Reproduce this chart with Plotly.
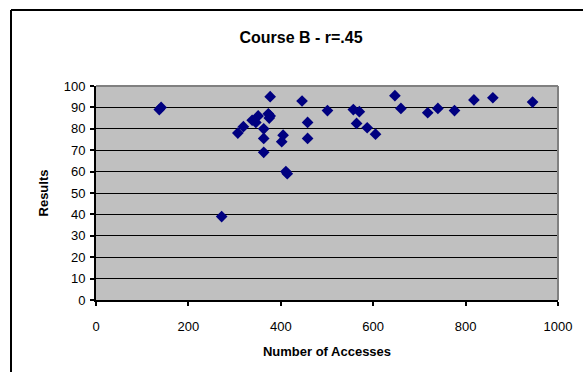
import plotly.graph_objects as go

accesses = [137, 141, 272, 307, 319, 338, 346, 351, 363, 363, 363, 373, 375, 377, 377,
            402, 405, 411, 414, 446, 458, 458, 501, 557, 564, 570, 587, 605,
            647, 660, 718, 740, 776, 818, 859, 945]
results = [89, 90, 39, 78, 81, 84, 83, 86, 69, 75.5, 80, 87, 85, 86, 95,
           74, 77, 60, 59, 93, 83, 75.5, 88.5, 89, 82.5, 88, 80.5, 77.5,
           95.5, 89.5, 87.5, 89.5, 88.5, 93.5, 94.5, 92.5]

W, H = 583, 372
L, R, T, B = 96, 25, 86, 72
pw, ph = W - L - R, H - T - B

fig = go.Figure(go.Scatter(
    x=accesses, y=results, mode="markers",
    marker=dict(symbol="diamond", size=9, color="#000080", line=dict(width=0)),
    cliponaxis=False,
))

font = "Liberation Sans, Arial, sans-serif"
fig.update_layout(
    width=W, height=H,
    margin=dict(l=L, r=R, t=T, b=B),
    paper_bgcolor="white", plot_bgcolor="#C0C0C0",
    showlegend=False,
    font=dict(family=font, size=12, color="black"),
    title=dict(text="<b>Course B - r=.45</b>", x=301 / W, xanchor="center",
               y=1 - 37 / H, yanchor="middle", font=dict(size=16, family=font)),
    xaxis=dict(range=[0, 1000], tickvals=[0, 200, 400, 600, 800, 1000],
               showgrid=False, zeroline=False, showline=True, linecolor="black",
               linewidth=2, ticks="outside", ticklen=4, tickwidth=2, tickcolor="black",
               ticklabelstandoff=9,
               title=dict(text="<b>Number of Accesses</b>", font=dict(size=13), standoff=14),
               tickfont=dict(size=13)),
    yaxis=dict(range=[0, 100], tickvals=list(range(0, 101, 10)),
               showgrid=True, gridcolor="black", gridwidth=1, zeroline=False,
               showline=True, linecolor="black", linewidth=2,
               ticks="outside", ticklen=4, tickwidth=2, tickcolor="black",
               ticklabelstandoff=2,
               title=dict(text="<b>Results</b>", font=dict(size=13), standoff=12),
               tickfont=dict(size=13)),
)

# grey top/right border of plot area
fig.add_shape(type="line", xref="paper", yref="paper", x0=0, x1=1, y0=1, y1=1,
              line=dict(color="#808080", width=2))
fig.add_shape(type="line", xref="paper", yref="paper", x0=1, x1=1, y0=0, y1=1,
              line=dict(color="#808080", width=2))
# outer chart frame: only left and top edges are visible in the window
fx0 = (11 - L) / pw
fx1 = (W - L) / pw
fy1 = (H - B - 10) / ph
fy0 = (H - B - H) / ph
fig.add_shape(type="line", xref="paper", yref="paper", x0=fx0, x1=fx0, y0=fy0, y1=fy1,
              line=dict(color="black", width=2), layer="below")
fig.add_shape(type="line", xref="paper", yref="paper", x0=fx0, x1=fx1, y0=fy1, y1=fy1,
              line=dict(color="black", width=2), layer="below")

fig.write_html("out.html")
